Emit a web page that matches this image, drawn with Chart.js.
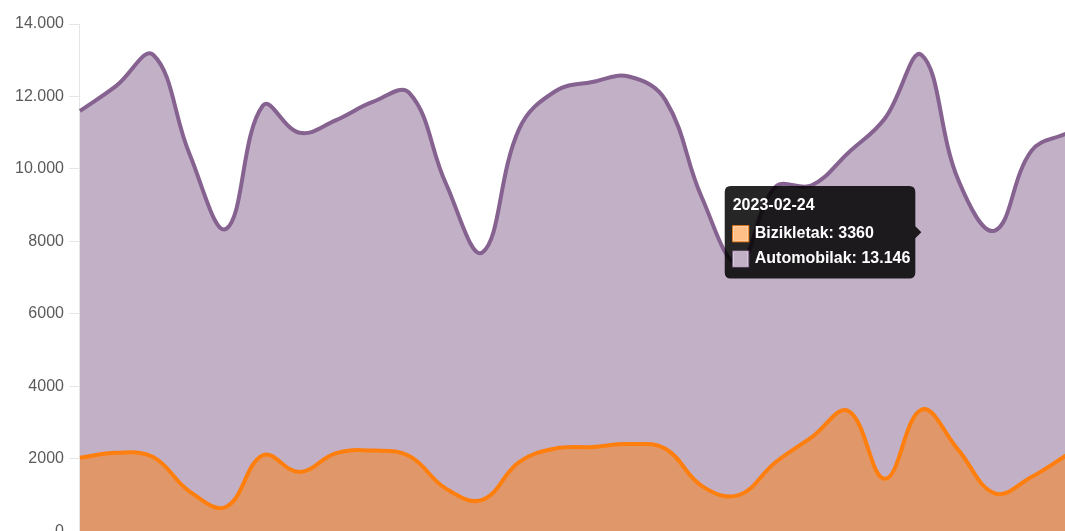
<!DOCTYPE html>
<html>
<head>
<meta charset="utf-8">
<script src="https://cdn.jsdelivr.net/npm/chart.js@4/dist/chart.umd.min.js"></script>
<style>
    html, body { margin: 0; padding: 0; background: #fff; overflow: hidden; }
    #wrap { width: 1070px; height: 546px; position: relative; }
</style>
</head>
<body>
<div id="wrap"><canvas id="trafficChart"></canvas></div>
<script>
const dates = [
    '2023-02-01', '2023-02-02', '2023-02-03', '2023-02-04', '2023-02-05', '2023-02-06', '2023-02-07',
    '2023-02-08', '2023-02-09', '2023-02-10', '2023-02-11', '2023-02-12', '2023-02-13', '2023-02-14',
    '2023-02-15', '2023-02-16', '2023-02-17', '2023-02-18', '2023-02-19', '2023-02-20', '2023-02-21',
    '2023-02-22', '2023-02-23', '2023-02-24', '2023-02-25', '2023-02-26', '2023-02-27', '2023-02-28'
];

const bizikletak = [
    2030, 2170, 2050, 1100, 680, 2100, 1640,
    2160, 2230, 2080, 1180, 870, 1910, 2290,
    2330, 2410, 2280, 1250, 1000, 1900, 2600,
    3320, 1450, 3360, 2250, 1050, 1500, 2130
];

const automobilak = [
    11600, 12300, 13150, 10400, 8350, 11750, 11000,
    11350, 11850, 12100, 9600, 7700, 11100, 12150,
    12400, 12550, 11900, 9200, 7400, 9500, 9550,
    10450, 11400, 13146, 9700, 8300, 10500, 11000
];

const yTicks = [0, 2000, 4000, 6000, 8000, 10000, 12000, 14000];
const activeDay = '2023-02-24';

const font = '"Liberation Sans", Arial, Helvetica, sans-serif';

// 8000 -> "8000", 13146 -> "13.146"
function fmt(v) {
    const s = String(Math.round(v));
    if (s.length < 5) return s;
    return s.replace(/\B(?=(\d{3})+(?!\d))/g, '.');
}

const ctx = document.getElementById('trafficChart').getContext('2d');
const chart = new Chart(ctx, {
    type: 'line',
    data: {
        labels: dates,
        datasets: [
            {
                label: 'Bizikletak',
                data: bizikletak,
                borderColor: '#ff7f0e',
                backgroundColor: 'rgba(255, 127, 14, 0.5)',
                borderWidth: 4,
                fill: 'origin',
                tension: 0.4,
                pointRadius: 0,
                pointHoverRadius: 0
            },
            {
                label: 'Automobilak',
                data: automobilak,
                borderColor: '#85628f',
                backgroundColor: 'rgba(133, 98, 143, 0.5)',
                borderWidth: 4,
                fill: 'origin',
                tension: 0.4,
                pointRadius: 0,
                pointHoverRadius: 0
            }
        ]
    },
    options: {
        responsive: true,
        maintainAspectRatio: false,
        animation: false,
        layout: { padding: { left: 10, top: 24, right: 0, bottom: 0 } },
        interaction: { mode: 'index', intersect: false },
        scales: {
            x: { display: false },
            y: {
                min: 0,
                max: 14000,
                afterBuildTicks: axis => { axis.ticks = yTicks.map(v => ({ value: v })); },
                border: { display: true, color: 'rgba(0,0,0,0.1)', width: 1 },
                grid: { drawOnChartArea: false, tickLength: 11, color: 'rgba(0,0,0,0.1)' },
                ticks: {
                    padding: 5,
                    color: '#5a5a5a',
                    font: { family: font, size: 16 },
                    callback: v => fmt(v)
                }
            }
        },
        plugins: {
            legend: { display: false },
            tooltip: {
                mode: 'index',
                intersect: false,
                position: 'average',
                backgroundColor: 'rgba(0, 0, 0, 0.85)',
                titleFont: { family: font, size: 16, weight: 'bold' },
                bodyFont: { family: font, size: 16, weight: 'bold' },
                titleMarginBottom: 9,
                bodySpacing: 6,
                padding: { left: 8, right: 5, top: 10, bottom: 10 },
                caretSize: 6,
                cornerRadius: 6,
                boxWidth: 16,
                boxHeight: 16,
                boxPadding: 4,
                callbacks: {
                    label: c => c.dataset.label + ': ' + fmt(c.parsed.y),
                    labelColor: c => ({
                        borderColor: c.dataset.borderColor,
                        backgroundColor: c.dataset.backgroundColor,
                        borderWidth: 1
                    })
                }
            }
        }
    }
});

const idx = dates.indexOf(activeDay);
const active = [{ datasetIndex: 0, index: idx }, { datasetIndex: 1, index: idx }];
chart.setActiveElements(active);
chart.tooltip.setActiveElements(active, { x: 0, y: 0 });
chart.update();
</script>
</body>
</html>
